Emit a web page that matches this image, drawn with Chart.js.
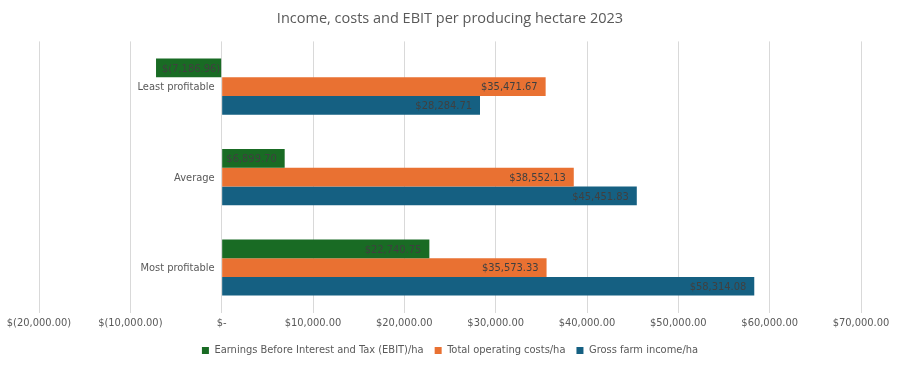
<!DOCTYPE html>
<html>
<head>
<meta charset="utf-8">
<script src="https://cdn.jsdelivr.net/npm/chart.js@4"></script>
<style>
  html, body { margin: 0; padding: 0; background: #fff; }
  #wrap { width: 898px; height: 365px; }
</style>
</head>
<body>
<div id="wrap"><canvas id="chart" width="898" height="365"></canvas></div>
<script>
// categories and series (values per producing hectare)
const groups = ['Least profitable', 'Average', 'Most profitable'];
const ebit = [-7186.96, 6899.70, 22740.75];
const costs = [35471.67, 38552.13, 35573.33];
const income = [28284.71, 45451.83, 58314.08];
const seriesNames = ['Earnings Before Interest and Tax (EBIT)/ha', 'Total operating costs/ha', 'Gross farm income/ha'];

const FONT = "'Liberation Sans Narrow', 'DejaVu Sans Condensed', 'Roboto', sans-serif";

function money(v) {
  if (v === 0) return '$-';
  const s = Math.abs(v).toLocaleString('en-US', { minimumFractionDigits: 2, maximumFractionDigits: 2 });
  return v < 0 ? '$(' + s + ')' : '$' + s;
}

// value labels inside the bar ends + category labels next to the zero line
const barLabels = {
  id: 'barLabels',
  afterDatasetsDraw(chart) {
    const ctx = chart.ctx;
    const x0 = chart.scales.x.getPixelForValue(0);
    const yScale = chart.scales.y;
    ctx.save();
    ctx.font = '11px ' + FONT;
    ctx.textBaseline = 'middle';
    ctx.fillStyle = '#595959';
    ctx.textAlign = 'right';
    groups.forEach((g, j) => ctx.fillText(g, x0 - 7, yScale.getPixelForTick(j) + 1));

    ctx.fillStyle = '#404040';
    chart.data.datasets.forEach((ds, i) => {
      chart.getDatasetMeta(i).data.forEach((bar, j) => {
        const v = ds.data[j];
        if (v >= 0) {
          ctx.textAlign = 'right';
          ctx.fillText(money(v), bar.x - 8, bar.y + 1);
        } else {
          ctx.textAlign = 'left';
          ctx.fillText(money(v), bar.x + 6, bar.y + 1);
        }
      });
    });
    ctx.restore();
  }
};

new Chart(document.getElementById('chart'), {
  type: 'bar',
  data: {
    labels: groups,
    datasets: [
      { label: seriesNames[0], data: ebit, backgroundColor: '#196B24' },
      { label: seriesNames[1], data: costs, backgroundColor: '#E97132' },
      { label: seriesNames[2], data: income, backgroundColor: '#156082' }
    ]
  },
  options: {
    indexAxis: 'y',
    responsive: false,
    animation: false,
    categoryPercentage: 0.62,
    barPercentage: 1,
    layout: { padding: { left: 39, right: 37, top: 0, bottom: -1 } },
    plugins: {
      title: {
        display: true,
        text: 'Income, costs and EBIT per producing hectare 2023',
        color: '#595959',
        font: { family: "'Open Sans', sans-serif", size: 14.5, weight: 'normal' },
        padding: { top: 10, bottom: 14 }
      },
      legend: {
        position: 'bottom',
        labels: {
          color: '#595959',
          font: { family: FONT, size: 11 },
          boxWidth: 7,
          boxHeight: 7,
          padding: 11
        }
      },
      tooltip: { enabled: false }
    },
    scales: {
      x: {
        min: -20000,
        max: 70000,
        ticks: {
          stepSize: 10000,
          color: '#595959',
          font: { family: FONT, size: 11 },
          callback: v => money(v),
          padding: 4
        },
        grid: { color: '#d9d9d9', drawTicks: false },
        border: { display: false }
      },
      y: {
        position: { x: 0 },
        ticks: { display: false },
        grid: { display: false },
        border: { display: false }
      }
    }
  },
  plugins: [barLabels]
});
</script>
</body>
</html>
